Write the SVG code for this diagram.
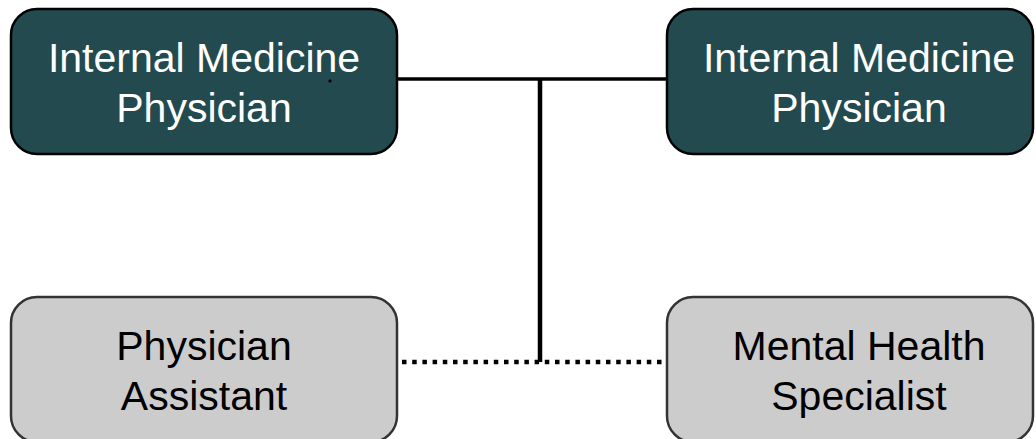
<svg xmlns="http://www.w3.org/2000/svg" width="1036" height="439" viewBox="0 0 1036 439">
  <style>
    .lead rect { fill: #234b4f; stroke: #000000; stroke-width: 2.5; }
    .team rect { fill: #cccccc; stroke: #333333; stroke-width: 2.5; }
    text { font-family: "Liberation Sans", Arial, sans-serif; font-size: 41px; text-anchor: middle; }
    .lead text { fill: #ffffff; }
    .team text { fill: #000000; }
    .solid { stroke: #000000; stroke-width: 3.7; fill: none; }
    .stem { stroke: #000000; stroke-width: 4.5; fill: none; }
    .dotted { stroke: #000000; stroke-width: 4.5; fill: none; stroke-dasharray: 4.5 5.7; }
  </style>

  <rect width="1036" height="439" fill="#ffffff"/>

  <!-- connectors -->
  <g id="connectors">
    <line class="solid" x1="397" y1="79" x2="667" y2="79"/>
    <line class="stem" x1="540" y1="79" x2="540" y2="362"/>
    <line class="dotted" x1="402" y1="362" x2="666" y2="362"/>
  </g>

  <!-- physicians -->
  <g id="physician-left" class="lead">
    <rect x="11" y="9" width="386" height="145" rx="26" ry="26"/>
    <text x="204" y="72">Internal Medicine</text>
    <text x="204" y="122">Physician</text>
    <path d="M330 79 L332 81 L330 83 L328 81 Z" fill="#000000"/>
  </g>

  <g id="physician-right" class="lead">
    <rect x="667" y="9" width="366" height="145" rx="26" ry="26"/>
    <text x="859" y="72">Internal Medicine</text>
    <text x="859" y="122">Physician</text>
  </g>

  <!-- support staff -->
  <g id="physician-assistant" class="team">
    <rect x="11" y="297" width="386" height="145" rx="26" ry="26"/>
    <text x="204" y="360">Physician</text>
    <text x="204" y="410">Assistant</text>
  </g>

  <g id="mental-health-specialist" class="team">
    <rect x="667" y="297" width="366" height="145" rx="26" ry="26"/>
    <text x="859" y="360">Mental Health</text>
    <text x="859" y="410">Specialist</text>
  </g>
</svg>
